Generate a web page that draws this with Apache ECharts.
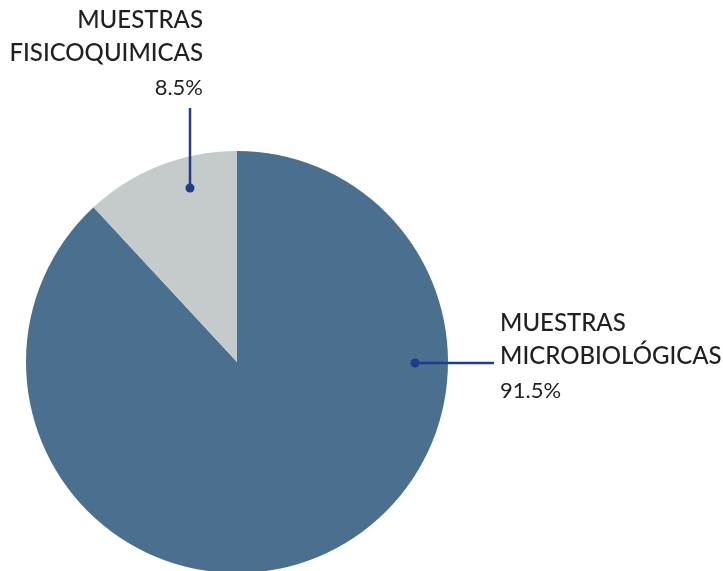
<!DOCTYPE html>
<html>
<head>
<meta charset="utf-8">
<script src="https://cdn.jsdelivr.net/npm/echarts@6/dist/echarts.min.js"></script>
<style>html,body{margin:0;padding:0;background:#fff}#c{width:723px;height:571px}</style>
</head>
<body>
<div id="c"></div>
<script>
// Categories and values
const categoryTitles = ['MUESTRAS\nMICROBIOLÓGICAS', 'MUESTRAS\nFISICOQUIMICAS'];
const labelPercents = ['91.5%', '8.5%'];
// slice sizes as drawn in the picture
const sliceShares = [88.1, 11.9];
const sliceColors = ['#4a6f8f', '#c5cacb'];

const chart = echarts.init(document.getElementById('c'), null, {renderer: 'canvas'});

const CX = 237, CY = 362, R = 211;
const lineColor = '#233b8b';

function labelText(i) {
  const parts = categoryTitles[i].split('\n').map(s => '{t|' + s + '}');
  return parts.join('\n') + '\n{p|' + labelPercents[i] + '}';
}

const data = categoryTitles.map((n, i) => ({
  name: n, value: sliceShares[i], itemStyle: {color: sliceColors[i]}
}));

chart.setOption({
  animation: false,
  series: [{
    type: 'pie',
    center: [CX, CY],
    radius: [0, R],
    startAngle: 90,
    clockwise: true,
    silent: true,
    data: data,
    label: {
      show: true,
      overflow: 'none',
      formatter: p => labelText(p.dataIndex),
      color: '#231f20',
      fontFamily: 'Lato',
      rich: {
        t: {fontSize: 24, fontFamily: 'Lato', fontWeight: 500, color: '#231f20', lineHeight: 33},
        p: {fontSize: 22, fontFamily: 'Lato', fontWeight: 400, color: '#231f20', lineHeight: 37}
      }
    },
    labelLine: {show: false},
    labelLayout: function (params) {
      if (params.dataIndex === 0) {
        return {x: 500, y: 358, align: 'left', verticalAlign: 'middle'};
      }
      return {x: 203, y: 55, align: 'right', verticalAlign: 'middle'};
    }
  }],
  graphic: [
    {type: 'line', shape: {x1: 190, y1: 108, x2: 190, y2: 188}, style: {stroke: lineColor, lineWidth: 2.5}, z: 100},
    {type: 'line', shape: {x1: 415, y1: 363, x2: 494, y2: 363}, style: {stroke: lineColor, lineWidth: 2.5}, z: 100},
    {type: 'circle', shape: {cx: 190, cy: 188, r: 4.5}, style: {fill: lineColor}, z: 100},
    {type: 'circle', shape: {cx: 415, cy: 363, r: 4.5}, style: {fill: lineColor}, z: 100}
  ]
});
</script>
</body>
</html>
